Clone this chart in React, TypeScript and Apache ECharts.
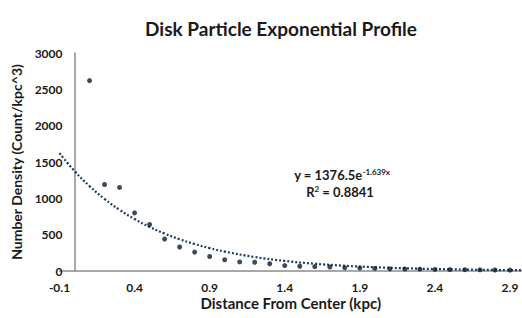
import React, { useEffect, useRef } from "react";
import * as echarts from "echarts";

const titleText = "Disk Particle Exponential Profile";
const xAxisName = "Distance From Center (kpc)";
const yAxisName = "Number Density (Count/kpc^3)";

const distances = [0.1, 0.2, 0.3, 0.4, 0.5, 0.6, 0.7, 0.8, 0.9, 1.0, 1.1, 1.2, 1.3, 1.4, 1.5, 1.6, 1.7, 1.8, 1.9, 2.0, 2.1, 2.2, 2.3, 2.4, 2.5, 2.6, 2.7, 2.8, 2.9];
const densities = [2620, 1190, 1150, 800, 640, 440, 330, 260, 200, 155, 125, 120, 100, 75, 65, 60, 55, 45, 40, 35, 30, 28, 25, 22, 20, 18, 16, 14, 12];

// Trendline reported on the chart: y = 1376.5 e^(-1.639x)
const fitA = 1376.5;
const fitB = -1.639;
const fitR2 = 0.8841;
const fitXs = [-0.1, 0, 0.1, 0.2, 0.3, 0.4, 0.5, 0.6, 0.7, 0.8, 0.9, 1.0, 1.2, 1.4, 1.6, 1.8, 2.0, 2.2, 2.4, 2.6, 2.8, 2.98];

const FONT = "Lato";

export default function App() {
  const ref = useRef<HTMLDivElement>(null);
  useEffect(() => {
    if (!ref.current) return;
    const chart = echarts.init(ref.current, undefined, { renderer: "svg" });
    const scatterData = distances.map((x, i) => [x, densities[i]]);
    const fitData = fitXs.map((x) => [x, fitA * Math.exp(fitB * x)]);
    chart.setOption({
      animation: false,
      backgroundColor: "#ffffff",
      textStyle: { fontFamily: FONT },
      title: {
        text: titleText,
        left: 276,
        top: 14,
        textAlign: "center",
        textStyle: { fontFamily: FONT, fontSize: 19, fontWeight: "bold", color: "#1a1a1a" },
      },
      grid: { left: 59.5, right: 0, top: 53, bottom: 47, containLabel: false, outerBoundsMode: "none" },
      xAxis: {
        type: "value",
        min: -0.1,
        max: 2.98,
        interval: 0.5,
        name: xAxisName,
        nameLocation: "middle",
        nameGap: 24,
        nameMoveOverlap: false,
        nameTextStyle: { fontFamily: FONT, fontSize: 15, fontWeight: "bold", color: "#1a1a1a", verticalAlign: "top" },
        axisLine: { onZero: true, lineStyle: { color: "#8c8c8c", width: 1.5 } },
        axisTick: { show: false },
        splitLine: { show: false },
        axisLabel: {
          showMaxLabel: false,
          margin: 10,
          fontFamily: FONT,
          fontSize: 12,
          fontWeight: "bold",
          color: "#1a1a1a",
          formatter: (v: number) => v.toFixed(1),
        },
      },
      yAxis: {
        type: "value",
        min: 0,
        max: 3000,
        interval: 500,
        name: yAxisName,
        nameLocation: "middle",
        nameGap: 36,
        nameMoveOverlap: false,
        nameTextStyle: { fontFamily: FONT, fontSize: 14, fontWeight: "bold", color: "#1a1a1a" },
        axisLine: { show: true, onZero: true, lineStyle: { color: "#8c8c8c", width: 1.5 } },
        axisTick: { show: false },
        splitLine: { show: false },
        axisLabel: {
          margin: -3,
          fontFamily: FONT,
          fontSize: 12,
          fontWeight: "bold",
          color: "#1a1a1a",
          formatter: (v: number) => String(v),
        },
      },
      graphic: [
        {
          type: "text",
          x: 342,
          y: 175,
          style: {
            text: "{b|y = 1376.5e}{s|-1.639x}",
            align: "center",
            verticalAlign: "middle",
            rich: {
              b: { fontFamily: FONT, fontSize: 13, fontWeight: "bold", fill: "#1a1a1a" },
              s: { fontFamily: FONT, fontSize: 8, fontWeight: "bold", fill: "#1a1a1a", verticalAlign: "top", padding: [0, 0, 6, 0] },
            },
          },
        },
        {
          type: "text",
          x: 340,
          y: 192,
          style: {
            text: "{b|R}{s|2}{b| = " + fitR2.toFixed(4) + "}",
            align: "center",
            verticalAlign: "middle",
            rich: {
              b: { fontFamily: FONT, fontSize: 13, fontWeight: "bold", fill: "#1a1a1a" },
              s: { fontFamily: FONT, fontSize: 8, fontWeight: "bold", fill: "#1a1a1a", padding: [0, 0, 6, 0] },
            },
          },
        },
      ],
      series: [
        {
          type: "line",
          data: fitData,
          smooth: true,
          showSymbol: false,
          symbol: "none",
          lineStyle: { color: "#1f3864", width: 2.2, type: [2, 2] },
          z: 2,
        },
        {
          type: "scatter",
          data: scatterData,
          symbol: "circle",
          symbolSize: 5,
          itemStyle: { color: "#0d1b33" },
          z: 3,
        },
      ],
    });
    return () => chart.dispose();
  }, []);
  return <div ref={ref} style={{ width: 522, height: 318, position: "absolute", left: 0, top: 0 }} />;
}
